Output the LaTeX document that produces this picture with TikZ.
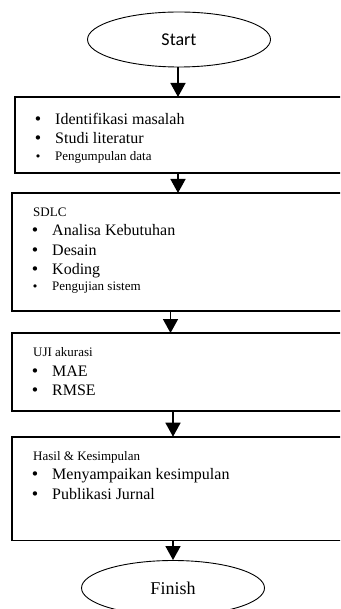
\documentclass[tikz,border=0pt]{standalone}
\usepackage{fontspec}
\setmainfont{Liberation Serif}
\newfontfamily\labelsans{Carlito}
\newfontfamily\dotfont{DejaVu Sans}
\usetikzlibrary{shapes.geometric,arrows.meta}
\begin{document}
\begin{tikzpicture}[x=1pt,y=-1pt,
  term/.style={ellipse, draw, line width=0.9pt, inner sep=0pt,
    minimum width=183pt, minimum height=55pt},
  stage/.style={rectangle, inner sep=0pt, anchor=north west, minimum width=360pt},
  frame/.style={line width=1.8pt, line cap=rect},
  flow/.style={-{Triangle[width=15pt,length=14pt]}, line width=1.5pt},
  item/.style={anchor=base west, inner sep=0pt, font=\fontsize{16}{19}\selectfont},
  minor/.style={anchor=base west, inner sep=0pt, font=\fontsize{13}{15}\selectfont},
  bigdot/.style={anchor=base, inner sep=0pt, font=\dotfont\fontsize{15}{18}\selectfont},
  smalldot/.style={anchor=base, inner sep=0pt, font=\dotfont\fontsize{11}{13}\selectfont}]
\useasboundingbox (0,0) rectangle (340,609);
\clip (0,0) rectangle (340,609);

% terminals
\node[term, font=\labelsans\fontsize{18}{21}\selectfont] (start) at (179,39.5) {Start};
\node[term, font=\fontsize{18}{21}\selectfont] (finish) at (173,588) {Finish};

% stage boxes: open on the right, they run on past the edge
\node[stage, minimum height=76pt] (b1) at (15,97) {};
\node[stage, minimum height=117.5pt] (b2) at (12.3,193) {};
\node[stage, minimum height=77.7pt] (b3) at (12.3,333) {};
\node[stage, minimum height=103.3pt] (b4) at (12.3,436.7) {};
\foreach \b in {b1,b2,b3,b4}
  \draw[frame] (\b.north east) -- (\b.north west) -- (\b.south west) -- (\b.south east);

% stage 1
\node[bigdot] (d11) at (38,124.3) {•};
\node[item] (t11) at (55,124.3) {Identifikasi masalah};
\node[bigdot] (d12) at (38,144) {•};
\node[item] (t12) at (55,144) {Studi literatur};
\node[smalldot] (d13) at (38,160.7) {•};
\node[minor] (t13) at (55,160.7) {Pengumpulan data};

% stage 2
\node[minor] (h2) at (33,216.7) {SDLC};
\node[bigdot] (d21) at (35,236) {•};
\node[item] (t21) at (52,236) {Analisa Kebutuhan};
\node[bigdot] (d22) at (35,255) {•};
\node[item] (t22) at (52,255) {Desain};
\node[bigdot] (d23) at (35,274) {•};
\node[item] (t23) at (52,274) {Koding};
\node[smalldot] (d24) at (35,290) {•};
\node[minor] (t24) at (52,290) {Pengujian sistem};

% stage 3
\node[minor] (h3) at (33,356.7) {UJI akurasi};
\node[bigdot] (d31) at (35,376) {•};
\node[item] (t31) at (52,376) {MAE};
\node[bigdot] (d32) at (35,395) {•};
\node[item] (t32) at (52,395) {RMSE};

% stage 4
\node[minor] (h4) at (33,460) {Hasil \& Kesimpulan};
\node[bigdot] (d41) at (35,479.3) {•};
\node[item] (t41) at (52,479.3) {Menyampaikan kesimpulan};
\node[bigdot] (d42) at (35,499) {•};
\node[item] (t42) at (52,499) {Publikasi Jurnal};

% connectors
\coordinate (c1) at (178,0);
\coordinate (c3) at (170.5,0);
\coordinate (c4) at (173,0);
\draw[flow] (start.south -| c1) -- (b1.north -| c1);
\draw[flow] (b1.south -| c1) -- (b2.north -| c1);
\draw[flow] (b2.south -| c3) -- (b3.north -| c3);
\draw[flow] (b3.south -| c4) -- (b4.north -| c4);
\draw[flow] (b4.south -| finish.north) -- (finish.north);
\end{tikzpicture}
\end{document}
